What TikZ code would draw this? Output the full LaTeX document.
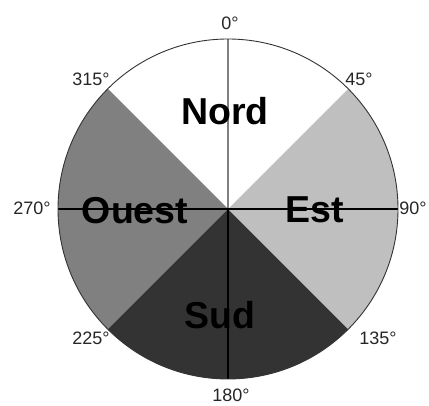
\documentclass[tikz,border=0pt]{standalone}
\usepackage{fontspec}
\setmainfont{Liberation Sans}
\begin{document}
\begin{tikzpicture}[x=1pt,y=1pt,
  deg/.style={font=\fontsize{18}{18}\selectfont, text=black!85, inner sep=0pt, text height=12.9pt, text depth=0pt},
  zone/.style={font=\fontsize{37.5}{37.5}\selectfont\bfseries, inner sep=0pt, text height=27pt, text depth=0pt}]
\useasboundingbox (0,0) rectangle (429,405);
\def\R{170}
\coordinate (c) at (228,196);
\fill[white] (c) -- ++(45:\R) arc[start angle=45,end angle=135,radius=\R] -- cycle;
\fill[black!50] (c) -- ++(135:\R) arc[start angle=135,end angle=225,radius=\R] -- cycle;
\fill[black!80] (c) -- ++(225:\R) arc[start angle=225,end angle=315,radius=\R] -- cycle;
\fill[black!25] (c) -- ++(-45:\R) arc[start angle=-45,end angle=45,radius=\R] -- cycle;
\coordinate (n) at (228,366);
\coordinate (s) at (228,26);
\coordinate (e) at (398,196);
\coordinate (w) at (58,196);
\draw[black!50, line width=1.2pt] (c) -- (n);
\draw[black, line width=1.2pt] (c) -- (s);
\draw[black, line width=1.2pt] (w) -- (e);
\draw[black!80, line width=0.9pt] (c) circle[radius=\R];
\node[zone] (nord) at (225,294) {Nord};
\node[zone] (est) at (315,196) {Est};
\node[zone] (sud) at (220,90) {Sud};
\node[zone] (ouest) at (135,195) {Ouest};
\node[deg] (d0) at (230,382) {0°};
\node[deg] (d45) at (359,326) {45°};
\node[deg] (d90) at (413,197) {90°};
\node[deg] (d135) at (378,67) {135°};
\node[deg] (d180) at (231,10) {180°};
\node[deg] (d225) at (91,67) {225°};
\node[deg] (d270) at (32,197) {270°};
\node[deg] (d315) at (91,326) {315°};
\end{tikzpicture}
\end{document}
